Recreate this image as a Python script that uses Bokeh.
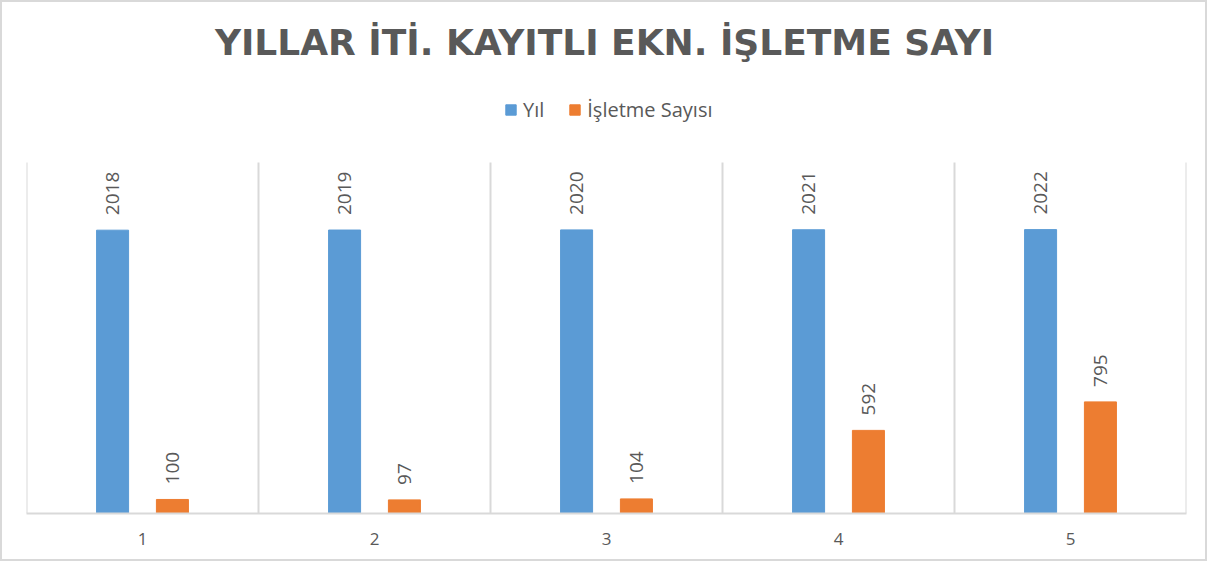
import math
from bokeh.plotting import figure
from bokeh.models import ColumnDataSource, FixedTicker, Legend, LegendItem, Label
from bokeh.core.properties import value
from bokeh.embed import file_html
from bokeh.resources import INLINE

categories = [1, 2, 3, 4, 5]
yil = [2018, 2019, 2020, 2021, 2022]
isletme = [100, 97, 104, 592, 795]
title_text = "YILLAR İTİ. KAYITLI EKN. İŞLETME SAYI"
series_names = ["Yıl", "İşletme Sayısı"]
y_axis_max = 2500

BLUE = "#5B9BD5"
ORANGE = "#ED7D31"
GRAY = "#595959"
LINE = "#D9D9D9"
FONT = "Open Sans"

# layout (canvas pixels)
W, H = 1207, 561
left, right, bottom = 24, 23, 50
frame_h = H - bottom
grid_top = 160                      # pixel row of the axis maximum
y_end = y_axis_max * frame_h / (frame_h - grid_top)

offset = 0.129
bw = 0.138

src = ColumnDataSource(dict(
    x1=[c - offset for c in categories],
    x2=[c + offset for c in categories],
    yil=yil, isl=isletme,
    yil_t=[str(v) for v in yil], isl_t=[str(v) for v in isletme],
))

bounds = [categories[0] - 0.5] + [c + 0.5 for c in categories]
gsrc = ColumnDataSource(dict(x=bounds, y0=[0] * len(bounds), y1=[y_axis_max] * len(bounds)))

p = figure(width=W, height=H, output_backend="svg", toolbar_location=None,
           x_range=(0.5, 5.5), y_range=(0, y_end), y_axis_location=None,
           min_border_left=left, min_border_right=right, min_border_bottom=bottom,
           min_border_top=0)
p.outline_line_color = None
p.background_fill_color = "white"
p.border_fill_color = "white"
p.xgrid.grid_line_color = None
p.ygrid.grid_line_color = None

p.segment(x0="x", y0="y0", x1="x", y1="y1", source=gsrc, line_color=LINE, line_width=2)

r1 = p.vbar(x="x1", top="yil", width=bw, source=src, color=BLUE)
r2 = p.vbar(x="x2", top="isl", width=bw, source=src, color=ORANGE)

for xk, yk, tk in [("x1", "yil", "yil_t"), ("x2", "isl", "isl_t")]:
    p.text(x=xk, y=yk, text=tk, source=src, angle=math.pi / 2, text_align="left",
           text_baseline="middle", y_offset=-15, text_color=GRAY,
           text_font=value(FONT), text_font_size="19px")

p.xaxis.ticker = FixedTicker(ticks=categories)
p.xaxis.major_tick_line_color = None
p.xaxis.minor_tick_line_color = None
p.xaxis.axis_line_color = LINE
p.xaxis.axis_line_width = 2
p.xaxis.major_label_text_color = GRAY
p.xaxis.major_label_text_font = FONT
p.xaxis.major_label_text_font_size = "17px"
p.xaxis.major_label_standoff = 13

legend = Legend(items=[LegendItem(label=series_names[0], renderers=[r1]),
                       LegendItem(label=series_names[1], renderers=[r2])],
                orientation="horizontal", location=(478, 390),
                label_text_font=FONT, label_text_font_size="20px", label_text_color=GRAY,
                glyph_width=13, glyph_height=13, spacing=24, label_standoff=6,
                label_height=20, border_line_color=None, background_fill_alpha=0,
                padding=0, margin=0)
p.add_layout(legend, "center")

title = Label(x=578, y=frame_h - 40, x_units="screen", y_units="screen", text=title_text,
              text_align="center", text_baseline="middle", text_font="DejaVu Sans",
              text_font_size="36px", text_font_style="bold", text_color=GRAY)
p.add_layout(title)

p.styles = {"border": "2px solid #D9D9D9"}

open("out.html", "w").write(file_html(p, INLINE))
